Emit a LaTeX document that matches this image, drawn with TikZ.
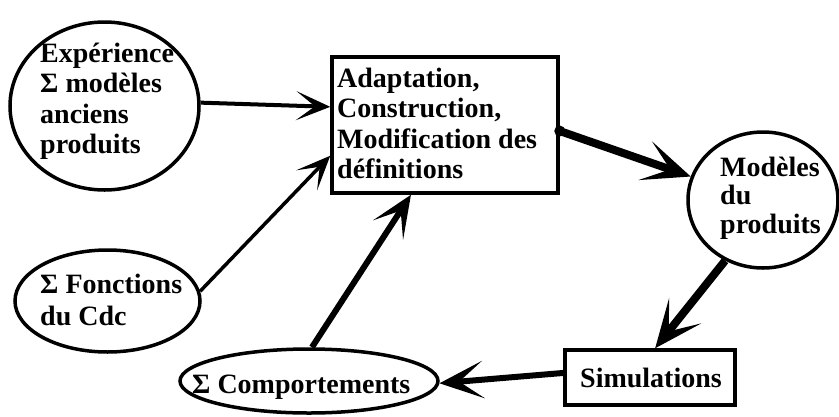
\documentclass[tikz,border=0pt]{standalone}
\usepackage{fontspec}
\setmainfont{Liberation Serif}
\usetikzlibrary{shapes.geometric,arrows.meta}
\begin{document}
\begin{tikzpicture}[x=1pt,y=-1pt,
  shp/.style={draw,line width=3.5pt,inner sep=0pt},
  oval/.style={shp,ellipse},
  box/.style={shp,rectangle},
  txt/.style={font=\fontsize{28}{30.5}\selectfont\bfseries,align=left,inner sep=0pt,anchor=base west},
  arr/.style={-{Stealth[length=#1,width=0.85*#1,inset=0.55*#1]}},
]
\useasboundingbox (0,0) rectangle (839,416);
% shapes
\node[oval,minimum width=189pt,minimum height=168pt] (exp) at (104.5,106) {};
\node[box,minimum width=226pt,minimum height=136pt] (rect) at (445,125) {};
\node[oval,minimum width=150pt,minimum height=136pt] (mod) at (763,200) {};
\node[oval,minimum width=185pt,minimum height=102pt] (fon) at (107.5,301) {};
\node[oval,minimum width=258pt,minimum height=64pt] (comp) at (309,381) {};
\node[box,minimum width=170pt,minimum height=55pt] (sim) at (650,377.5) {};
% texts (anchor base = baseline of the last line)
\node[txt] (exptxt) at (40,153.5) {Expérience\\Σ modèles\\anciens\\produits};
\node[txt] (recttxt) at (337,178.5) {Adaptation,\\Construction,\\Modification des\\définitions};
\node[txt,font=\fontsize{28}{28.5}\selectfont\bfseries] (modtxt) at (720,233) {Modèles\\du\\produits};
\node[txt,font=\fontsize{28}{32}\selectfont\bfseries] (fontxt) at (40,325) {Σ Fonctions\\du Cdc};
\node[txt] (comptxt) at (192,393) {Σ Comportements};
\node[txt,anchor=base] (simtxt) at (651,387) {Simulations};
% connectors
\draw[arr=34pt,line width=4pt] (exp.2) -- (rect.171);
\draw[arr=34pt,line width=3.5pt] (fon.6) -- (rect.195);
\draw[arr=42pt,line width=6pt] (comp.85) -- (rect.244);
\fill (rect.-3) circle (5.5pt);
\draw[arr=48pt,line width=8pt] (rect.-3) -- (mod.162);
\draw[arr=48pt,line width=8pt] (mod.238) -- (sim.80);
\draw[arr=44pt,line width=6pt] (sim.177) -- (comp.-1);
\end{tikzpicture}
\end{document}
